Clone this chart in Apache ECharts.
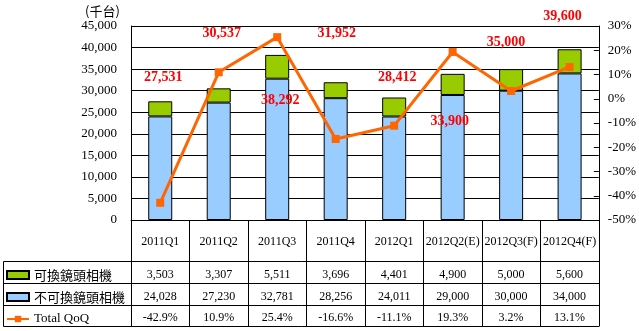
<!DOCTYPE html>
<html>
<head>
<meta charset="utf-8">
<script src="https://cdn.jsdelivr.net/npm/echarts@6/dist/echarts.min.js"></script>
<style>
  html, body { margin: 0; padding: 0; background: #fff; }
  #chart { width: 639px; height: 331px; }
</style>
</head>
<body>
<div id="chart"></div>
<script>
// Quarterly shipments (thousand units) and quarter-over-quarter growth
const categories = ['2011Q1', '2011Q2', '2011Q3', '2011Q4', '2012Q1', '2012Q2(E)', '2012Q3(F)', '2012Q4(F)'];
const interchangeable = [3503, 3307, 5511, 3696, 4401, 4900, 5000, 5600];
const nonInterchangeable = [24028, 27230, 32781, 28256, 24011, 29000, 30000, 34000];
const totalQoQ = [-42.9, 10.9, 25.4, -16.6, -11.1, 19.3, 3.2, 13.1];
const leftTicks = { min: 0, max: 45000, interval: 5000 };
const rightTicks = { min: -50, max: 30, interval: 10 };

// Per-quarter nudges for the red total labels
const totalLabelOffsets = [[3, -24], [3, -55], [3, 45], [1, -49], [3, -20], [-3, 48], [-5, -27], [-7, -33]];

const NAME_A = '可換鏡頭相機';
const NAME_B = '不可換鏡頭相機';
const NAME_C = 'Total QoQ';

const SERIF = '"Liberation Serif", "Times New Roman", serif';
const CJK = '"Noto Sans CJK TC", "Noto Sans CJK SC", sans-serif';
const fmt = v => v.toLocaleString('en-US');

const GRID_LEFT = 131, GRID_RIGHT = 40, GRID_TOP = 26, GRID_BOTTOM = 111;
const PLOT_RIGHT = 639 - GRID_RIGHT;
const tableRows = [261.5, 283.5, 305.5, 326.5];

const chart = echarts.init(document.getElementById('chart'), null, { renderer: 'canvas' });

function rowAxis(values, offset) {
  return {
    type: 'category',
    position: 'bottom',
    offset: offset,
    data: values,
    axisLine: { show: false },
    axisTick: { show: false },
    splitLine: { show: false },
    axisLabel: {
      interval: 0, margin: 0, verticalAlign: 'middle',
      fontFamily: SERIF, fontSize: 12, color: '#000'
    }
  };
}

const lineStyleBlack = { color: '#000', width: 1 };

// Table grid lines below the plot
const graphics = tableRows.map(y => ({
  type: 'line', silent: true,
  shape: { x1: 3.5, y1: y, x2: PLOT_RIGHT, y2: y },
  style: { stroke: '#000', lineWidth: 1 }
}));
graphics.push({
  type: 'line', silent: true,
  shape: { x1: 3.5, y1: tableRows[0], x2: 3.5, y2: tableRows[3] },
  style: { stroke: '#000', lineWidth: 1 }
});
graphics.push({
  type: 'text', left: 85, top: 5,
  style: { text: '(千台)', fontFamily: CJK, fontSize: 13, fill: '#000' }
});

const option = {
  animation: false,
  backgroundColor: '#fff',
  grid: { left: GRID_LEFT, right: GRID_RIGHT, top: GRID_TOP, bottom: GRID_BOTTOM },
  legend: {
    data: [
      { name: NAME_A, icon: 'rect' },
      { name: NAME_B, icon: 'rect' },
      { name: NAME_C, textStyle: { fontFamily: SERIF, fontSize: 13 } }
    ],
    orient: 'vertical',
    left: 6, top: 268, height: 63,
    padding: 0,
    itemWidth: 22, itemHeight: 8, itemGap: 8,
    textStyle: { fontFamily: CJK, fontSize: 13, lineHeight: 14, color: '#000' },
    selectedMode: false
  },
  xAxis: [
    {
      type: 'category',
      data: categories,
      axisLine: { lineStyle: lineStyleBlack },
      axisTick: { show: true, interval: 0, length: 106.5, lineStyle: lineStyleBlack },
      axisLabel: {
        interval: 0, margin: 22, verticalAlign: 'middle',
        fontFamily: SERIF, fontSize: 12, color: '#000'
      },
      splitLine: { show: false }
    },
    rowAxis(interchangeable.map(fmt), 55),
    rowAxis(nonInterchangeable.map(fmt), 77),
    rowAxis(totalQoQ.map(v => v.toFixed(1) + '%'), 98)
  ],
  yAxis: [
    {
      type: 'value',
      min: leftTicks.min, max: leftTicks.max, interval: leftTicks.interval,
      axisLine: { show: true, lineStyle: lineStyleBlack },
      axisTick: { show: false },
      splitLine: { show: true, lineStyle: lineStyleBlack },
      axisLabel: { margin: 14, fontFamily: SERIF, fontSize: 13, color: '#000', formatter: v => fmt(v) }
    },
    {
      type: 'value',
      min: rightTicks.min, max: rightTicks.max, interval: rightTicks.interval,
      position: 'right',
      axisLine: { show: true, lineStyle: lineStyleBlack },
      axisTick: { show: true, inside: true, length: 5, lineStyle: lineStyleBlack },
      splitLine: { show: false },
      axisLabel: { margin: 9, fontFamily: SERIF, fontSize: 13, color: '#000', formatter: v => v + '%' }
    }
  ],
  series: [
    {
      name: NAME_B,
      type: 'bar',
      stack: 'units',
      barWidth: 24,
      itemStyle: { color: '#99CCFF', borderColor: '#000', borderWidth: 1 },
      data: nonInterchangeable
    },
    {
      name: NAME_A,
      type: 'bar',
      stack: 'units',
      barWidth: 24,
      itemStyle: { color: '#99CC00', borderColor: '#000', borderWidth: 1 },
      label: {
        show: true,
        position: ['50%', 0],
        align: 'center',
        verticalAlign: 'middle',
        fontFamily: SERIF, fontSize: 14, fontWeight: 'bold', color: '#FF0000',
        formatter: p => fmt(interchangeable[p.dataIndex] + nonInterchangeable[p.dataIndex])
      },
      data: interchangeable.map((v, i) => ({ value: v, label: { offset: totalLabelOffsets[i] } })),
      z: 3
    },
    {
      name: NAME_C,
      type: 'line',
      yAxisIndex: 1,
      symbol: 'rect',
      symbolSize: 8,
      lineStyle: { color: '#FF6600', width: 3 },
      itemStyle: { color: '#FF6600' },
      data: totalQoQ,
      z: 4
    }
  ],
  graphic: graphics
};

chart.setOption(option);
</script>
</body>
</html>
